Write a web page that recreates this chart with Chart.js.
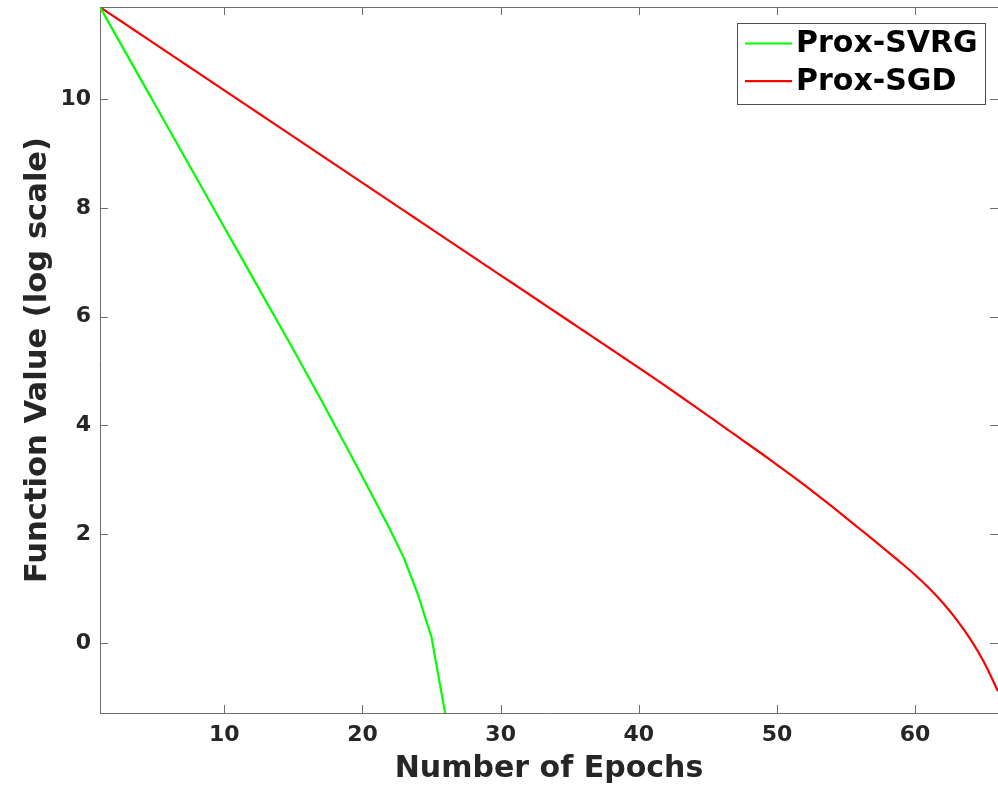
<!DOCTYPE html>
<html>
<head>
<meta charset="utf-8">
<script src="https://cdn.jsdelivr.net/npm/chart.js@4/dist/chart.umd.min.js"></script>
<style>
  html, body { margin: 0; padding: 0; background: #fff; overflow: hidden; }
  #wrap { position: relative; width: 998px; height: 785px; }
</style>
</head>
<body>
<div id="wrap"><canvas id="c"></canvas></div>
<script>
// ---- data ----
const epochs = [1,2,3,4,5,6,7,8,9,10,11,12,13,14,15,16,17,18,19,20,21,22,23,24,25,26,27,28,29,30,31,32,33,34,35,36,37,38,39,40,41,42,43,44,45,46,47,48,49,50,51,52,53,54,55,56,57,58,59,60,61,62,63,64,65,66];
const proxSVRG = [11.69,11.24,10.79,10.34,9.89,9.44,8.99,8.54,8.09,7.64,7.19,6.74,6.29,5.84,5.39,4.93,4.47,4.00,3.53,3.05,2.57,2.08,1.56,0.90,0.10,-1.32];
const proxSGD = [11.69,11.52,11.35,11.18,11.01,10.84,10.67,10.50,10.33,10.16,9.99,9.82,9.65,9.48,9.31,9.14,8.97,8.80,8.63,8.46,8.29,8.12,7.95,7.78,7.61,7.44,7.27,7.10,6.93,6.76,6.59,6.42,6.25,6.08,5.91,5.74,5.57,5.40,5.23,5.06,4.887,4.712,4.536,4.359,4.18,4.00,3.82,3.64,3.46,3.275,3.09,2.90,2.705,2.505,2.30,2.095,1.89,1.68,1.47,1.25,1.01,0.74,0.43,0.07,-0.36,-0.89];
const xTickValues = [10,20,30,40,50,60];
const yTickValues = [0,2,4,6,8,10];
const seriesNames = ['Prox-SVRG','Prox-SGD'];
const seriesColors = ['#00ff00','#ff0000'];

const AXIS = '#6e6e6e';
const TEXT = '#262626';
const FONT = 'DejaVu Sans';

function pts(ys) { return ys.map((v, i) => ({ x: epochs[i], y: v })); }

const boxAndTicks = {
  id: 'boxAndTicks',
  afterDatasetsDraw(chart) {
    const { ctx, chartArea: a, scales } = chart;
    ctx.save();
    ctx.strokeStyle = AXIS;
    ctx.lineWidth = 1;
    ctx.beginPath();
    ctx.moveTo(a.left, Math.round(a.top) + 0.5); ctx.lineTo(a.right, Math.round(a.top) + 0.5);
    const L = 8;
    scales.x.ticks.forEach(t => {
      const px = Math.round(scales.x.getPixelForValue(t.value)) + 0.5;
      ctx.moveTo(px, a.bottom); ctx.lineTo(px, a.bottom - L);
      ctx.moveTo(px, a.top); ctx.lineTo(px, a.top + L);
    });
    scales.y.ticks.forEach(t => {
      const py = Math.round(scales.y.getPixelForValue(t.value)) + 0.5;
      ctx.moveTo(a.left, py); ctx.lineTo(a.left + L, py);
      ctx.moveTo(a.right, py); ctx.lineTo(a.right - L, py);
    });
    ctx.stroke();
    ctx.restore();
  },
  afterDraw(chart) {
    const { ctx } = chart;
    ctx.save();
    const bx = 737.5, by = 23.5, bw = 248, bh = 81;
    ctx.fillStyle = '#fff';
    ctx.fillRect(bx, by, bw, bh);
    ctx.strokeStyle = '#4d4d4d';
    ctx.lineWidth = 1;
    ctx.strokeRect(bx, by, bw, bh);
    ctx.font = 'bold 30px "' + FONT + '"';
    ctx.textBaseline = 'middle';
    ctx.fillStyle = '#000';
    chart.data.datasets.forEach((ds, i) => {
      const y = 43.5 + i * 37.7;
      ctx.strokeStyle = ds.borderColor;
      ctx.lineWidth = 2.2;
      ctx.beginPath(); ctx.moveTo(745, y); ctx.lineTo(792, y); ctx.stroke();
      ctx.fillText(ds.label, 796, y + 1);
    });
    ctx.restore();
  }
};

new Chart(document.getElementById('c'), {
  type: 'line',
  data: {
    datasets: [
      { label: seriesNames[0], data: pts(proxSVRG), borderColor: seriesColors[0], borderWidth: 2.2, pointRadius: 0, tension: 0, fill: false },
      { label: seriesNames[1], data: pts(proxSGD), borderColor: seriesColors[1], borderWidth: 2.2, pointRadius: 0, cubicInterpolationMode: 'monotone', fill: false }
    ]
  },
  options: {
    responsive: true,
    maintainAspectRatio: false,
    animation: false,
    layout: { padding: { top: 7, right: 0, bottom: 0, left: 0 } },
    plugins: { legend: { display: false }, tooltip: { enabled: false } },
    scales: {
      x: {
        type: 'linear', position: 'bottom', min: 1, max: 66,
        afterFit(s) { s.height = 72; s.paddingLeft = 0; s.paddingRight = 0; },
        afterBuildTicks(s) { s.ticks = xTickValues.map(v => ({ value: v })); },
        grid: { display: true, drawOnChartArea: false, drawTicks: false },
        border: { display: true, color: AXIS, width: 1 },
        ticks: { font: { family: FONT, size: 22, weight: 'bold' }, color: TEXT, padding: 9, maxRotation: 0, callback: v => String(v) },
        title: { display: true, text: 'Number of Epochs', font: { family: FONT, size: 30, weight: 'bold', lineHeight: 1.05 }, color: TEXT, padding: { top: 0, bottom: 0 } }
      },
      y: {
        type: 'linear', position: 'left', min: -1.288, max: 11.693,
        afterFit(s) { s.width = 100; s.paddingTop = 0; s.paddingBottom = 0; },
        afterBuildTicks(s) { s.ticks = yTickValues.map(v => ({ value: v })); },
        grid: { display: true, drawOnChartArea: false, drawTicks: false },
        border: { display: true, color: AXIS, width: 1 },
        ticks: { font: { family: FONT, size: 22, weight: 'bold' }, color: TEXT, padding: 9, callback: v => String(v) },
        title: { display: true, text: 'Function Value (log scale)', font: { family: FONT, size: 30.6, weight: 'bold', lineHeight: 1.1 }, color: TEXT, padding: { top: 21, bottom: 0 } }
      }
    }
  },
  plugins: [boxAndTicks]
});
</script>
</body>
</html>
